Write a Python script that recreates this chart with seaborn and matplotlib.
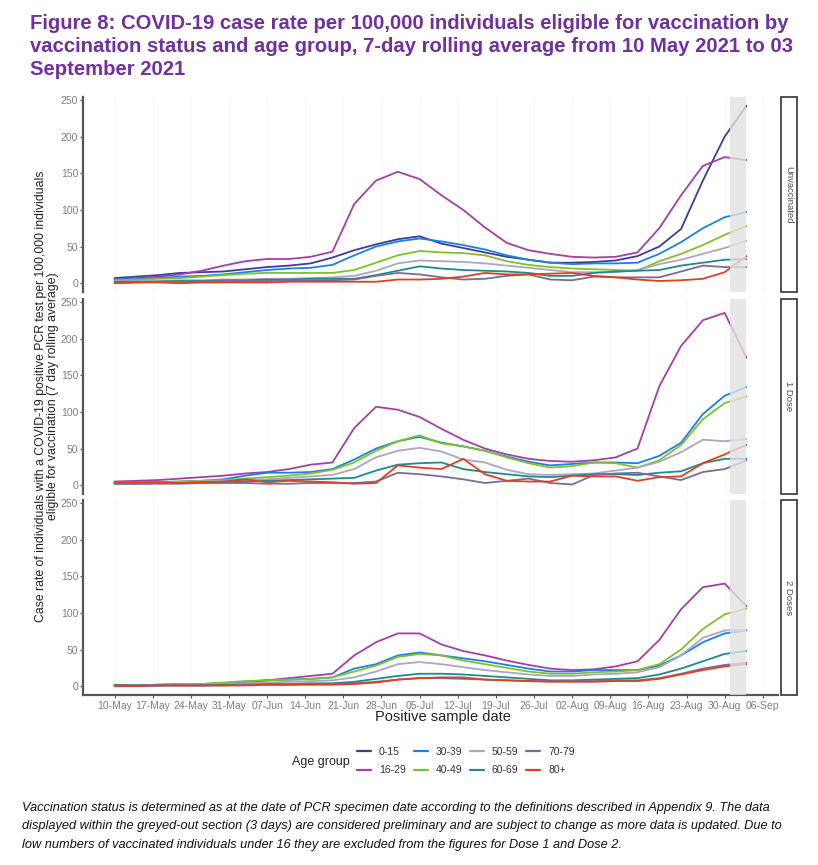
import pandas as pd
import matplotlib
matplotlib.use("Agg")
import matplotlib.pyplot as plt
import matplotlib.dates as mdates
from matplotlib.lines import Line2D
from matplotlib.patches import Rectangle
import seaborn as sns

# sample dates (every 4 days)
dates = ["2021-05-10", "2021-05-14", "2021-05-18", "2021-05-22", "2021-05-26",
         "2021-05-30", "2021-06-03", "2021-06-07", "2021-06-11", "2021-06-15",
         "2021-06-19", "2021-06-23", "2021-06-27", "2021-07-01", "2021-07-05",
         "2021-07-09", "2021-07-13", "2021-07-17", "2021-07-21", "2021-07-25",
         "2021-07-29", "2021-08-02", "2021-08-06", "2021-08-10", "2021-08-14",
         "2021-08-18", "2021-08-22", "2021-08-26", "2021-08-30", "2021-09-03"]

age_groups = ["0-15", "16-29", "30-39", "40-49", "50-59", "60-69", "70-79", "80+"]
age_colors = ["#3f3a9c", "#a23fa8", "#1a80e6", "#7dc22a", "#aaa5c2", "#1e8a8a", "#7b6a9e", "#e0401e"]
statuses = ["Unvaccinated", "1 Dose", "2 Doses"]

# Unvaccinated
unvax_0_15 = [7, 9, 11, 14, 15, 16, 19, 22, 24, 27, 35, 45, 53, 60, 64, 54, 48, 42, 36, 32, 28, 28, 29, 31, 37, 50, 74, 140, 200, 242]
unvax_16_29 = [5, 7, 9, 12, 17, 24, 30, 33, 33, 36, 43, 108, 140, 152, 142, 120, 100, 76, 55, 45, 40, 36, 35, 36, 42, 75, 120, 160, 172, 168]
unvax_30_39 = [5, 6, 7, 9, 10, 12, 15, 18, 20, 21, 25, 38, 50, 57, 61, 57, 52, 46, 38, 32, 28, 26, 27, 27, 28, 40, 56, 75, 90, 97]
unvax_40_49 = [4, 5, 6, 7, 9, 11, 13, 14, 14, 14, 14, 18, 28, 38, 44, 42, 41, 38, 30, 25, 22, 20, 19, 18, 17, 30, 40, 52, 66, 78]
unvax_50_59 = [3, 3, 3, 4, 4, 5, 5, 6, 6, 7, 8, 10, 17, 27, 31, 30, 29, 27, 24, 21, 18, 15, 15, 15, 18, 26, 32, 40, 48, 58]
unvax_60_69 = [2, 2, 2, 3, 3, 4, 4, 5, 5, 6, 6, 6, 11, 17, 23, 20, 18, 17, 16, 14, 10, 10, 14, 16, 17, 18, 24, 28, 32, 33]
unvax_70_79 = [1, 1, 2, 2, 2, 3, 3, 3, 4, 4, 4, 5, 10, 14, 12, 8, 5, 6, 10, 12, 5, 4, 9, 8, 8, 8, 16, 24, 22, 22]
unvax_80 = [0, 1, 1, 0, 1, 1, 1, 1, 2, 2, 2, 2, 2, 5, 5, 6, 9, 14, 12, 12, 13, 14, 10, 8, 5, 3, 4, 6, 15, 37]

# 1 Dose (no under-16 series)
dose1_16_29 = [5, 6, 7, 9, 11, 13, 16, 18, 22, 28, 31, 78, 107, 103, 93, 77, 62, 50, 42, 36, 33, 32, 34, 38, 50, 135, 190, 225, 235, 174]
dose1_30_39 = [3, 3, 4, 5, 6, 8, 13, 17, 17, 18, 22, 35, 50, 60, 66, 58, 53, 47, 39, 32, 27, 29, 31, 31, 30, 40, 58, 97, 122, 134]
dose1_40_49 = [4, 4, 4, 5, 6, 7, 9, 11, 13, 16, 21, 31, 47, 60, 68, 57, 53, 47, 38, 30, 24, 26, 31, 30, 24, 34, 55, 90, 112, 121]
dose1_50_59 = [3, 3, 3, 4, 5, 6, 7, 8, 10, 12, 14, 22, 38, 47, 51, 46, 35, 31, 21, 15, 14, 15, 16, 20, 24, 32, 45, 62, 60, 63]
dose1_60_69 = [2, 2, 3, 3, 4, 4, 5, 6, 7, 8, 9, 10, 20, 28, 30, 31, 22, 18, 15, 12, 11, 13, 15, 15, 14, 17, 19, 30, 36, 36]
dose1_70_79 = [2, 2, 2, 2, 3, 3, 3, 2, 2, 3, 3, 3, 5, 17, 15, 12, 8, 3, 6, 9, 3, 1, 14, 16, 17, 12, 7, 18, 22, 34]
dose1_80 = [4, 4, 4, 3, 4, 5, 8, 4, 6, 5, 4, 2, 3, 27, 24, 22, 36, 15, 6, 5, 5, 13, 12, 12, 6, 11, 12, 30, 42, 55]

# 2 Doses (no under-16 series)
dose2_16_29 = [1, 1, 2, 2, 3, 4, 6, 8, 11, 14, 17, 42, 60, 72, 72, 57, 48, 42, 35, 29, 24, 22, 23, 27, 34, 63, 105, 135, 140, 109]
dose2_30_39 = [1, 1, 2, 3, 3, 4, 6, 8, 9, 10, 12, 24, 30, 42, 46, 42, 38, 34, 29, 24, 20, 20, 22, 22, 22, 28, 42, 60, 72, 76]
dose2_40_49 = [1, 1, 2, 3, 3, 5, 7, 8, 9, 10, 12, 20, 28, 40, 44, 42, 35, 30, 25, 20, 17, 17, 19, 20, 22, 30, 50, 78, 98, 106]
dose2_50_59 = [1, 1, 1, 2, 2, 3, 4, 5, 6, 7, 8, 12, 20, 30, 33, 30, 26, 22, 19, 16, 14, 14, 16, 17, 19, 26, 42, 66, 76, 77]
dose2_60_69 = [2, 1, 1, 1, 1, 2, 2, 3, 3, 4, 4, 6, 10, 14, 17, 17, 16, 14, 12, 10, 8, 8, 9, 10, 11, 16, 24, 34, 44, 48]
dose2_70_79 = [1, 1, 1, 1, 1, 1, 2, 2, 2, 3, 3, 4, 6, 9, 11, 11, 10, 9, 8, 7, 7, 7, 7, 8, 8, 11, 17, 24, 29, 32]
dose2_80 = [0, 0, 1, 1, 1, 1, 1, 2, 2, 2, 2, 3, 5, 9, 11, 12, 12, 9, 8, 7, 6, 6, 6, 7, 7, 10, 16, 22, 27, 30]

x_ticks = ["2021-05-10", "2021-05-17", "2021-05-24", "2021-05-31", "2021-06-07",
           "2021-06-14", "2021-06-21", "2021-06-28", "2021-07-05", "2021-07-12",
           "2021-07-19", "2021-07-26", "2021-08-02", "2021-08-09", "2021-08-16",
           "2021-08-23", "2021-08-30", "2021-09-06"]
y_ticks = [0, 50, 100, 150, 200, 250]

title = ("Figure 8: COVID-19 case rate per 100,000 individuals eligible for vaccination by\n"
         "vaccination status and age group, 7-day rolling average from 10 May 2021 to 03\n"
         "September 2021")
caption = ("Vaccination status is determined as at the date of PCR specimen date according to the definitions described in Appendix 9. The data\n"
           "displayed within the greyed-out section (3 days) are considered preliminary and are subject to change as more data is updated. Due to\n"
           "low numbers of vaccinated individuals under 16 they are excluded from the figures for Dose 1 and Dose 2.")

series = {
    "Unvaccinated": [unvax_0_15, unvax_16_29, unvax_30_39, unvax_40_49,
                     unvax_50_59, unvax_60_69, unvax_70_79, unvax_80],
    "1 Dose": [None, dose1_16_29, dose1_30_39, dose1_40_49,
               dose1_50_59, dose1_60_69, dose1_70_79, dose1_80],
    "2 Doses": [None, dose2_16_29, dose2_30_39, dose2_40_49,
                dose2_50_59, dose2_60_69, dose2_70_79, dose2_80],
}

rows = []
for status in statuses:
    for age, vals in zip(age_groups, series[status]):
        if vals is None:
            continue
        for d, v in zip(dates, vals):
            rows.append({"status": status, "age": age, "date": pd.Timestamp(d), "rate": v})
df = pd.DataFrame(rows)

sns.set_theme(style="white")
plt.rcParams["font.family"] = ["Liberation Sans", "DejaVu Sans"]

W, H = 818, 865
fig = plt.figure(figsize=(W / 100, H / 100), dpi=100)
fig.patch.set_facecolor("white")


def fx(px):
    return px / W


def fy(py):
    return 1 - py / H


palette = dict(zip(age_groups, age_colors))
panel_tops = [97, 299, 500]
panel_h = 195
left, right = 83, 778
xmin = pd.Timestamp("2021-05-04 05:00")
xmax = pd.Timestamp("2021-09-08 19:00")
tick_dates = [pd.Timestamp(t) for t in x_ticks]

for i, status in enumerate(statuses):
    top = panel_tops[i]
    ax = fig.add_axes([fx(left), fy(top + panel_h), fx(right - left), panel_h / H])
    sub = df[df["status"] == status]
    sns.lineplot(data=sub, x="date", y="rate", hue="age", hue_order=age_groups,
                 palette=palette, linewidth=1.3, estimator=None, legend=False, ax=ax)
    # preliminary data band
    ax.axvspan(pd.Timestamp("2021-08-31"), pd.Timestamp("2021-09-03"),
               color="#e2e2e2", alpha=0.8, lw=0, zorder=5)
    ax.set_xlim(xmin, xmax)
    ax.set_ylim(-12, 254)
    ax.set_yticks(y_ticks)
    ax.set_xticks(tick_dates)
    ax.xaxis.set_major_formatter(mdates.DateFormatter("%d-%b"))
    ax.grid(axis="x", color="#f6f6f6", lw=0.8)
    ax.set_axisbelow(True)
    ax.set_xlabel("")
    ax.set_ylabel("")
    for s in ["top", "right"]:
        ax.spines[s].set_visible(False)
    ax.spines["left"].set_color("#555555")
    ax.spines["left"].set_linewidth(1.6)
    ax.tick_params(axis="y", length=2.2, width=0.8, color="#555555",
                   labelsize=7.5, labelcolor="#7f7f7f", pad=1.2, left=True)
    if i < 2:
        ax.spines["bottom"].set_visible(False)
        ax.tick_params(axis="x", bottom=False, labelbottom=False)
    else:
        ax.spines["bottom"].set_color("#555555")
        ax.spines["bottom"].set_linewidth(1.6)
        ax.tick_params(axis="x", length=2.5, width=0.8, color="#555555",
                       labelsize=7.5, labelcolor="#7f7f7f", pad=1.5, bottom=True)

    # facet strip on the right
    fig.patches.append(Rectangle((fx(781), fy(top + panel_h)), fx(797) - fx(781), panel_h / H,
                                 transform=fig.transFigure, facecolor="white",
                                 edgecolor="#333333", lw=1.2))
    fig.text(fx(789), fy(top + panel_h / 2), status, rotation=-90, ha="center",
             va="center", fontsize=6.8, color="#4d4d4d")

fig.text(fx(30), fy(14), title, ha="left", va="top", fontsize=14.6, fontweight="bold",
         color="#7030a0", linespacing=1.27)

fig.text(fx(47), fy(396),
         "Case rate of individuals with a COVID-19 positive PCR test per 100,000 individuals\n"
         "eligible for vaccination (7 day rolling average)",
         rotation=90, ha="center", va="center", fontsize=8.8, color="#222222",
         multialignment="center", linespacing=1.05)
fig.text(fx(443), fy(717), "Positive sample date", ha="center", va="center",
         fontsize=10.5, color="#222222")

handles = [Line2D([0], [0], color=c, lw=1.6) for c in age_colors]
fig.text(fx(321), fy(762), "Age group", ha="center", va="center", fontsize=9, color="#222222")
fig.legend(handles, age_groups, ncol=4, loc="center", bbox_to_anchor=(fx(466), fy(761)),
           frameon=False, fontsize=7.5, handlelength=1.35, handletextpad=0.75,
           columnspacing=0.75, labelspacing=0.8, labelcolor="#333333")

fig.text(fx(22), fy(802), caption, ha="left", va="top", fontsize=9.2, style="italic",
         color="#111111", linespacing=1.72)

fig.savefig("out.png", dpi=100, facecolor="white")
